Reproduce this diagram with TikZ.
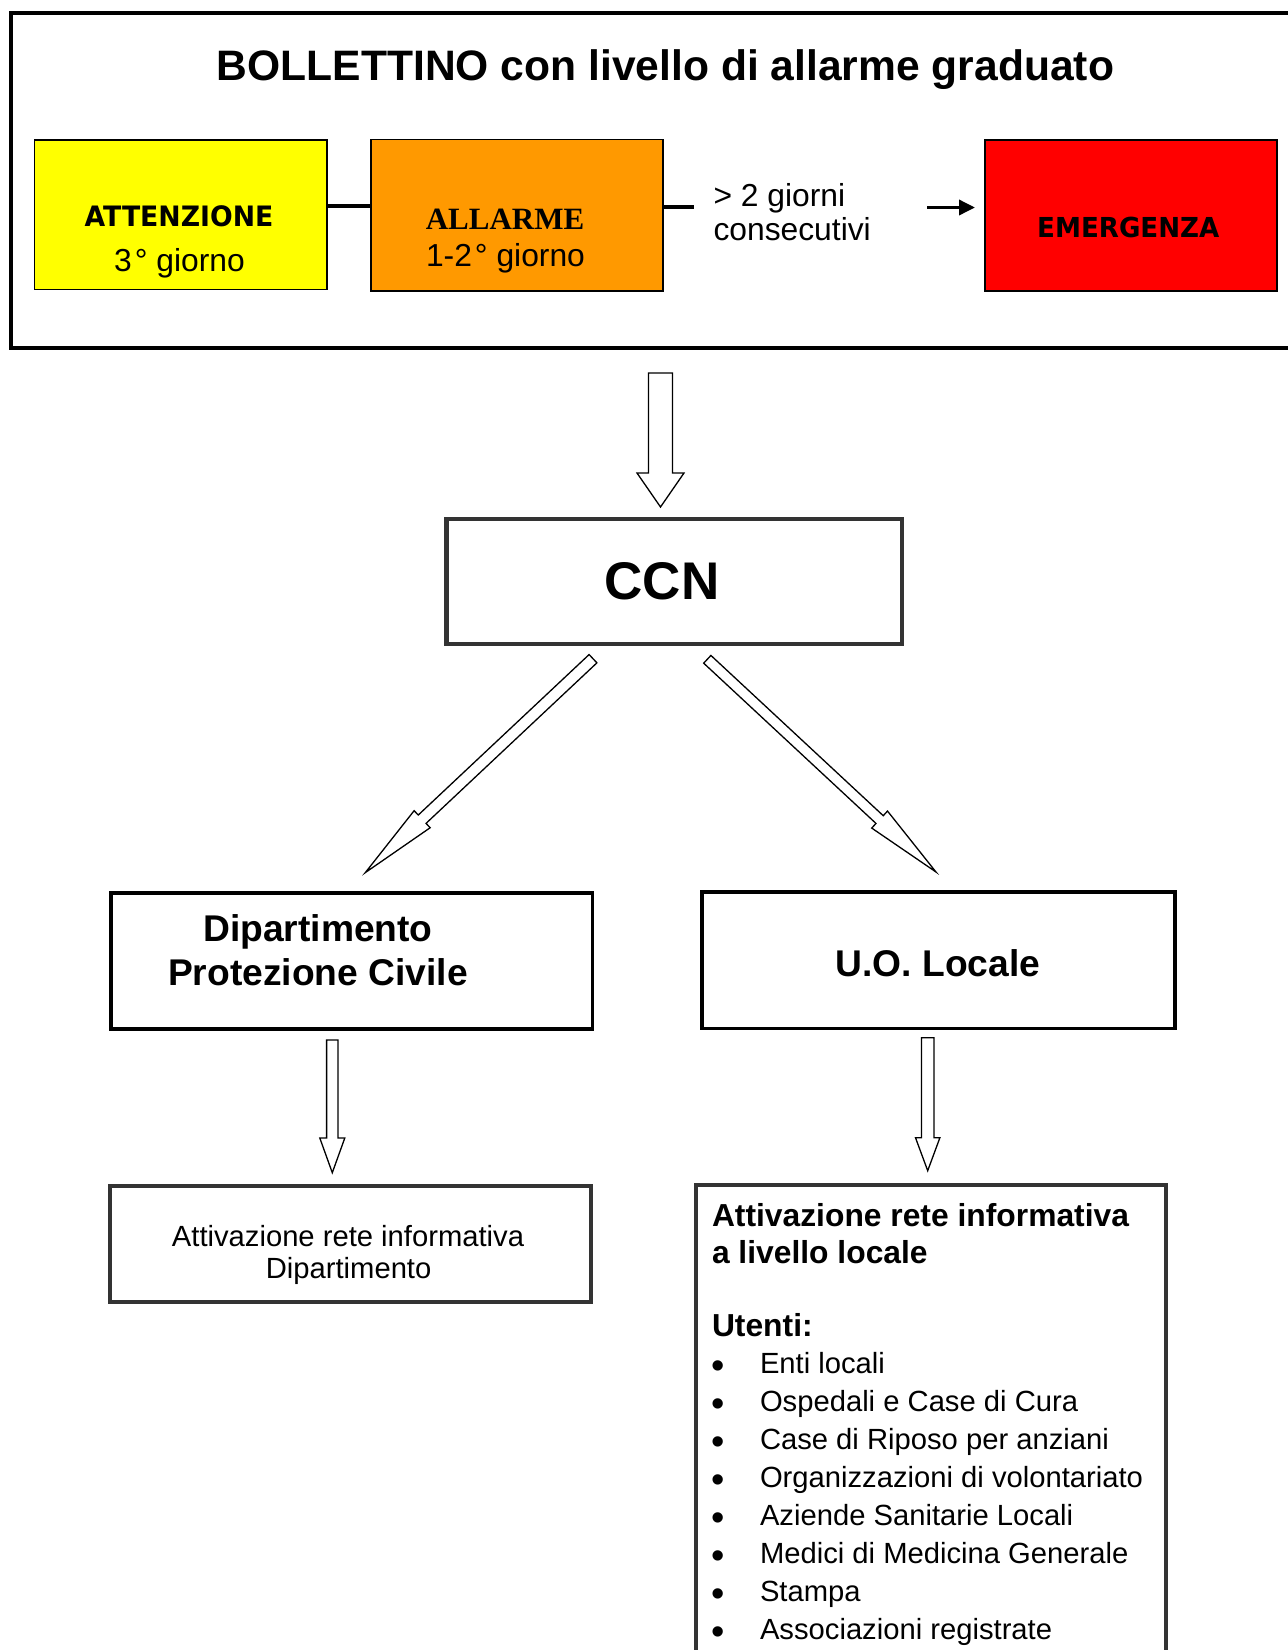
\documentclass[tikz,border=0pt]{standalone}
\usepackage{fontspec}
\setmainfont{Liberation Sans}
\newfontfamily\serifbf{Liberation Serif}
\newfontfamily\tahfont[FakeStretch=0.95]{DejaVu Sans}
\usetikzlibrary{calc,arrows.meta}
\definecolor{boxgrey}{HTML}{333333}
\definecolor{ylw}{HTML}{FFFF00}
\definecolor{org}{HTML}{FF9900}
\definecolor{rd}{HTML}{FF0000}
\newcommand\fsz[1]{\fontsize{#1}{#1}\selectfont}
% hollow block arrow: tail, tip, shaft half width, head half width, head length
\newcommand\hollowarr[5]{%
  \coordinate (hN) at ($(#2)!#5!(#1)$);
  \draw[blockarrow] ($(#1)!#3!90:(#2)$) -- ($(hN)!#3!90:(#2)$) -- ($(hN)!#4!90:(#2)$)
     -- (#2) -- ($(hN)!#4!-90:(#2)$) -- ($(hN)!#3!-90:(#2)$) -- ($(#1)!#3!-90:(#2)$) -- cycle;}
\begin{document}
\begin{tikzpicture}[x=1pt,y=-1pt,
  txt/.style={inner sep=0pt, outer sep=0pt, anchor=base},
  colbox/.style={draw=black, line width=1.5pt, inner sep=0pt, outer sep=0pt, rectangle},
  mainbox/.style={draw=black, line width=3.5pt, inner sep=0pt, outer sep=0pt, rectangle},
  greybox/.style={draw=boxgrey, line width=4.5pt, inner sep=0pt, outer sep=0pt, rectangle},
  blockarrow/.style={draw=black, line width=1.3pt, fill=white, line join=miter},
  link/.style={draw=black, line width=3.3pt},
]
\useasboundingbox (0,0) rectangle (1288,1650);
\clip (0,0) rectangle (1288,1650);
\fill[white] (0,0) rectangle (1288,1650);

% ---------- top frame ----------
\node[mainbox, line width=4pt, minimum width=1289pt, minimum height=335.5pt] (bollettino) at (655.5,180.25) {};
\node[txt, font=\fsz{42.6}\bfseries] (title) at (665.5,80.7) {BOLLETTINO con livello di allarme graduato};

\node[colbox, fill=ylw, minimum width=292.5pt, minimum height=149.5pt] (attenzione) at (180.75,214.75) {};
\node[colbox, fill=org, minimum width=292pt, minimum height=151.5pt] (allarme) at (517,215.25) {};
\node[colbox, fill=rd, minimum width=292pt, minimum height=151pt] (emergenza) at (1131,215.5) {};

\node[txt, font=\tahfont\bfseries\fsz{28.1}] (attT) at (179,226) {ATTENZIONE};
\node[txt, font=\fsz{31.8}] (attG) at (179.5,271.7) {3\kern3pt° giorno};
\node[txt, font=\serifbf\bfseries\fsz{31}] (allT) at (505,229.3) {ALLARME};
\node[txt, font=\fsz{31.8}] (allG) at (505.5,266) {1-2\kern3pt° giorno};
\node[txt, font=\tahfont\bfseries\fsz{27.5}] (emeT) at (1128.3,237.3) {EMERGENZA};
\node[txt, anchor=base west, font=\fsz{31.8}] (cons1) at (713.5,206) {> 2 giorni};
\node[txt, anchor=base west, font=\fsz{31.8}] (cons2) at (713.5,240) {consecutivi};

\draw[link] (attenzione.east |- 0,206) -- (allarme.west |- 0,206);
\coordinate (allEnd) at (694,207);
\draw[link] (allarme.east |- allEnd) -- (allEnd);
\coordinate (emeStart) at (927,207.5);
\coordinate (emeTip) at (975,207.5);
\draw[draw=black, line width=3.5pt, -{Triangle[length=16pt,width=15pt]}] (emeStart) -- (emeTip);

% ---------- CCN ----------
\node[greybox, minimum width=455.5pt, minimum height=125pt] (ccn) at (674.25,581.5) {};
\node[txt, font=\fsz{53}\bfseries] (ccnT) at (662,599.3) {CCN};

\coordinate (a1t) at (660.5,373);
\coordinate (a1h) at (660.5,507);
\hollowarr{a1t}{a1h}{12pt}{23.5pt}{34pt}

\coordinate (a2t) at (593,658.7);
\coordinate (a2h) at (365.3,872.6);
\hollowarr{a2t}{a2h}{5.7pt}{11.7pt}{78pt}

\coordinate (a3t) at (707.3,659.3);
\coordinate (a3h) at (936,872);
\hollowarr{a3t}{a3h}{5.3pt}{11.6pt}{77pt}

% ---------- second level ----------
\node[mainbox, minimum width=481.5pt, minimum height=136pt] (dip) at (351.75,961) {};
\node[txt, font=\fsz{37.2}\bfseries] (dipT1) at (318,941.7) {Dipartimento};
\node[txt, font=\fsz{37.2}\bfseries] (dipT2) at (318,985) {Protezione Civile};

\node[mainbox, minimum width=473pt, minimum height=136.5pt] (uo) at (938.5,960.25) {};
\node[txt, font=\fsz{37.2}\bfseries] (uoT) at (938,976.7) {U.O. Locale};

\coordinate (a4t) at (332.3,1040);
\coordinate (a4h) at (332.3,1172.7);
\hollowarr{a4t}{a4h}{5.7pt}{12.5pt}{34.7pt}

\coordinate (a5t) at (927.7,1037.7);
\coordinate (a5h) at (927.7,1170.7);
\hollowarr{a5t}{a5h}{6.3pt}{12.2pt}{33pt}

% ---------- third level ----------
\node[greybox, line width=4pt, minimum width=481pt, minimum height=116pt] (attL) at (350,1244) {};
\node[txt, font=\fsz{29.2}] (attLT1) at (348,1246) {Attivazione rete informativa};
\node[txt, font=\fsz{29.2}] (attLT2) at (348.6,1278.3) {Dipartimento};

\node[greybox, line width=4pt, minimum width=470.5pt, minimum height=485pt] (attR) at (930.75,1427.5) {};
\node[txt, anchor=base west, font=\fsz{31.8}\bfseries] (attRT1) at (712,1226) {Attivazione rete informativa};
\node[txt, anchor=base west, font=\fsz{31.8}\bfseries] (attRT2) at (712,1263.3) {a livello locale};
\node[txt, anchor=base west, font=\fsz{31.8}\bfseries] (utenti) at (712,1336.7) {Utenti:};

\foreach \item [count=\i from 0] in {Enti locali,Ospedali e Case di Cura,Case di Riposo per anziani,Organizzazioni di volontariato,Aziende Sanitarie Locali,Medici di Medicina Generale,Stampa,Associazioni registrate}{
  \node[txt, font=\fsz{38}] (bul\i) at (717.8,1378.3+38*\i) {•};
  \node[txt, anchor=base west, font=\fsz{29.2}] (item\i) at (760,1373.3+38*\i) {\item};
}
\end{tikzpicture}
\end{document}
